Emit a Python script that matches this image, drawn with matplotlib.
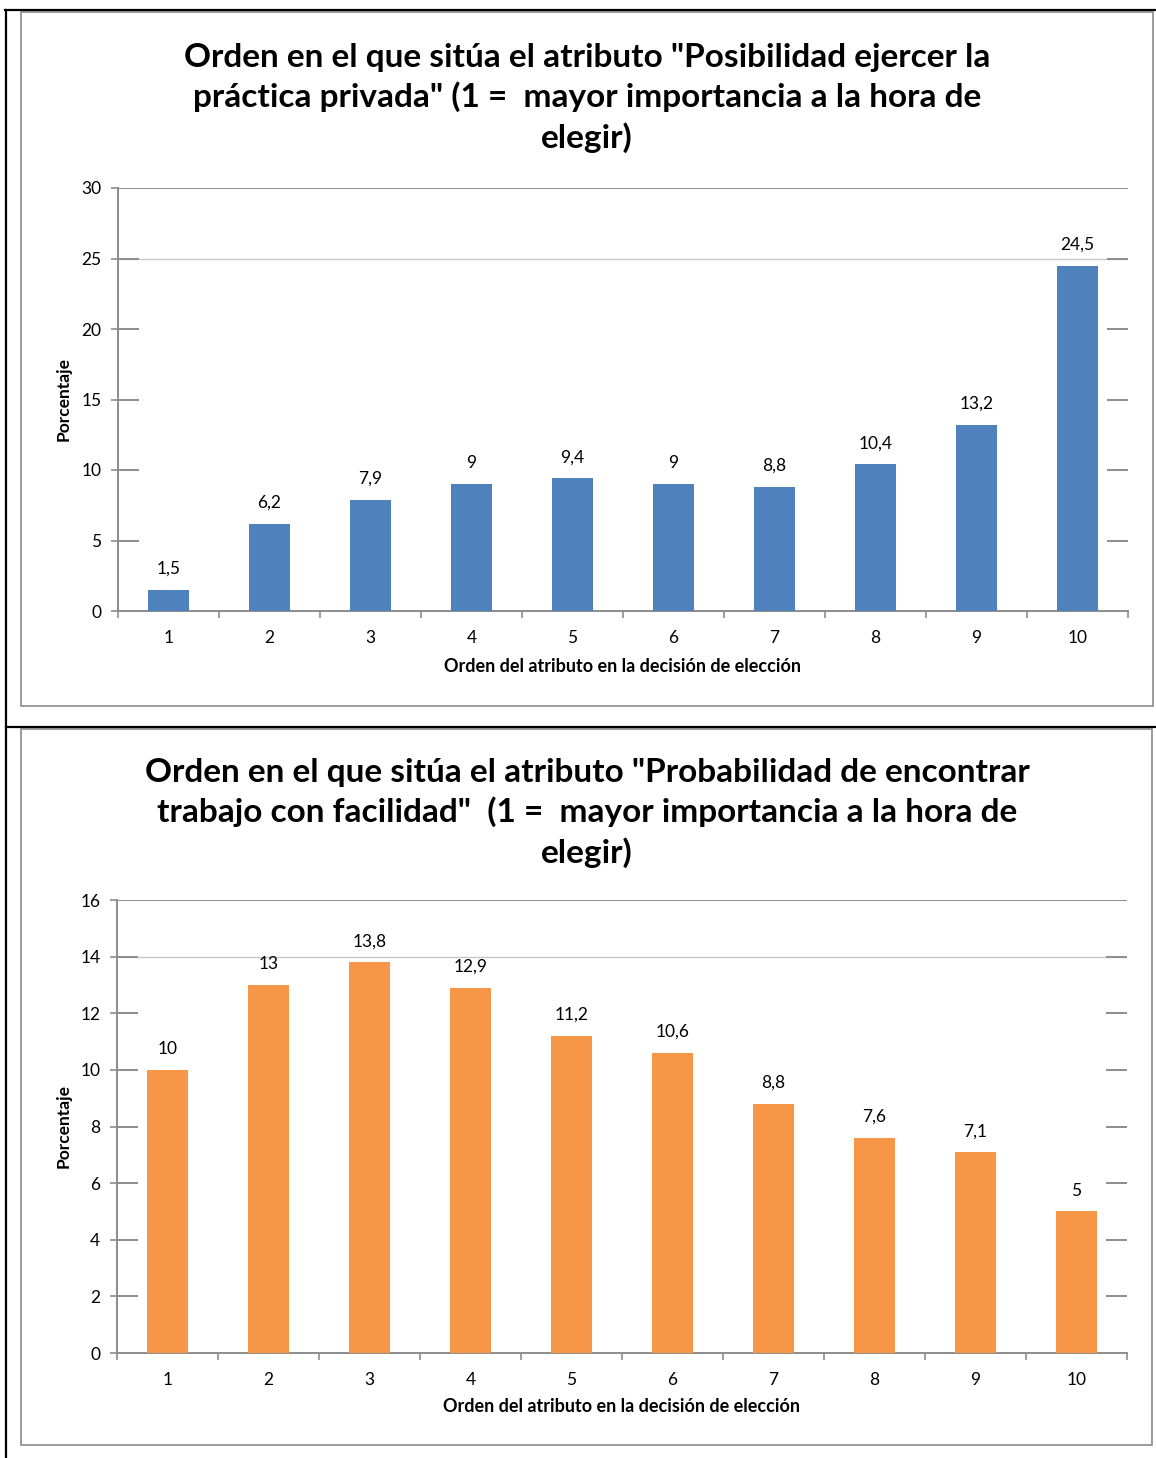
import matplotlib
matplotlib.use("Agg")
import matplotlib.pyplot as plt
from matplotlib.lines import Line2D
from matplotlib.patches import Rectangle

plt.rcParams['font.family'] = ['Lato', 'DejaVu Sans']

# --- datos ---
categorias = ['1', '2', '3', '4', '5', '6', '7', '8', '9', '10']
privada = [1.5, 6.2, 7.9, 9, 9.4, 9, 8.8, 10.4, 13.2, 24.5]
trabajo = [10, 13, 13.8, 12.9, 11.2, 10.6, 8.8, 7.6, 7.1, 5]

titulo_1 = ('Orden en el que sitúa el atributo "Posibilidad ejercer la\n'
            'práctica privada" (1 =  mayor importancia a la hora de\nelegir)')
titulo_2 = ('Orden en el que sitúa el atributo "Probabilidad de encontrar\n'
            'trabajo con facilidad"  (1 =  mayor importancia a la hora de\nelegir)')
etiqueta_x = 'Orden del atributo en la decisión de elección'
etiqueta_y = 'Porcentaje'

AZUL = '#4F81BD'
NARANJA = '#F79646'
GRIS = '#8c8c8c'

W, H = 1156, 1458
fig = plt.figure(figsize=(W / 100, H / 100), dpi=100)


def fx(px):
    return px / W


def fy(py):
    return 1 - py / H


def etiqueta(v):
    if v == int(v):
        return str(int(v))
    return str(v).replace('.', ',')


def grafico(rect, valores, color, ymax, paso, titulo, y_titulo, y_xlabel):
    ax = fig.add_axes(rect)
    x = list(range(len(valores)))
    ax.bar(x, valores, width=0.4, color=color, zorder=3)
    ax.set_xlim(-0.5, len(valores) - 0.5)
    ax.set_ylim(0, ymax)
    ticks = list(range(0, ymax + 1, paso))
    ax.set_yticks(ticks)
    ax.set_xticks(x)
    ax.set_xticklabels(categorias)
    ax.set_xticks([i - 0.5 for i in range(len(valores) + 1)], minor=True)
    ax.tick_params(axis='x', which='major', length=0, labelsize=12.5, pad=14)
    ax.tick_params(axis='x', which='minor', length=5, color=GRIS, width=1.2)
    ax.tick_params(axis='y', length=5, color=GRIS, width=1.2, labelsize=12.5, pad=7)
    for s in ['top', 'right']:
        ax.spines[s].set_visible(False)
    for s in ['left', 'bottom']:
        ax.spines[s].set_color(GRIS)
        ax.spines[s].set_linewidth(1.4)

    # lineas de cuadricula (tal como aparecen en la imagen)
    ax.axhline(ticks[-1], color=GRIS, lw=1.4, zorder=1)
    ax.axhline(ticks[-2], color='#c8c8c8', lw=1.0, zorder=1)
    for t in ticks[1:-1]:
        ax.axhline(t, xmin=0, xmax=0.02, color=GRIS, lw=1.4, zorder=1)
        ax.axhline(t, xmin=0.98, xmax=1, color=GRIS, lw=1.4, zorder=2)

    for xi, v in zip(x, valores):
        ax.annotate(etiqueta(v), (xi, v), xytext=(0, 15), textcoords='offset points',
                    ha='center', va='center', fontsize=12.5)

    pos = ax.get_position()
    fig.text(fx(64), pos.y0 + pos.height / 2, etiqueta_y, rotation=90, ha='center',
             va='center', fontsize=12.5, fontweight='bold')
    fig.text(pos.x0 + pos.width / 2, fy(y_xlabel), etiqueta_x, ha='center', va='center',
             fontsize=13, fontweight='bold')
    fig.text(fx(587), fy(y_titulo), titulo, ha='center', va='center',
             fontsize=24, fontweight='bold', linespacing=1.38)
    return ax


grafico([fx(118), fy(611), fx(1010), (611 - 188) / H], privada, AZUL, 30, 5,
        titulo_1, 98, 667)
grafico([fx(117), fy(1353), fx(1010), (1353 - 900) / H], trabajo, NARANJA, 16, 2,
        titulo_2, 813, 1406)

# marcos
fig.add_artist(Rectangle((fx(21), fy(706)), fx(1153 - 21), (706 - 12) / H,
                         fill=False, edgecolor='#8a8a8a', lw=1.2))
fig.add_artist(Rectangle((fx(21), fy(1445)), fx(1152 - 21), (1445 - 729) / H,
                         fill=False, edgecolor='#8a8a8a', lw=1.2))
fig.add_artist(Line2D([fx(5), 1], [fy(10), fy(10)], color='black', lw=1.6))
fig.add_artist(Line2D([fx(6), fx(6)], [fy(10), 0], color='black', lw=1.6))
fig.add_artist(Line2D([fx(6), 1], [fy(727), fy(727)], color='black', lw=1.6))

fig.savefig('out.png', dpi=100)
